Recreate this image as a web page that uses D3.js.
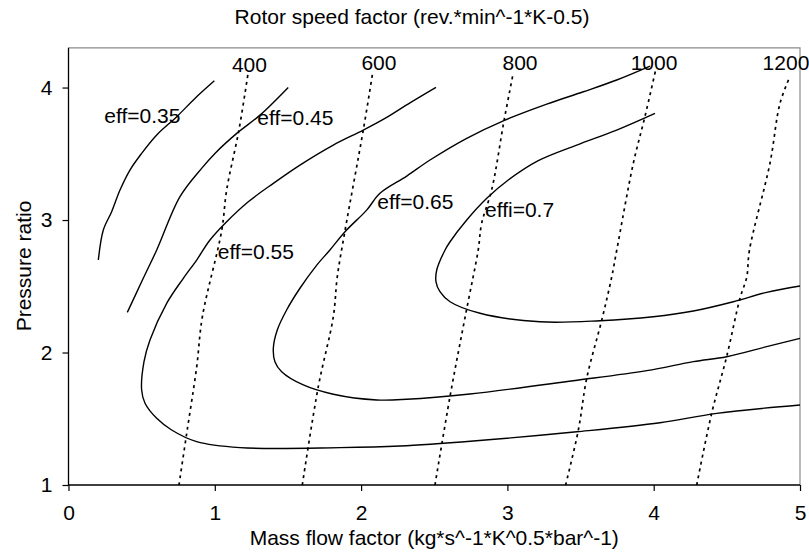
<!DOCTYPE html>
<html>
<head>
<meta charset="utf-8">
<script src="https://cdn.jsdelivr.net/npm/d3@7"></script>
<style>
  html, body { margin: 0; padding: 0; background: #fff; }
  svg { display: block; }
  text { font-family: "Liberation Sans", Arial, sans-serif; fill: #000; }
</style>
</head>
<body>
<svg id="chart" width="809" height="553"></svg>
<script>
// ---------- data ----------
const xTicks = [0, 1, 2, 3, 4, 5];
const yTicks = [1, 2, 3, 4];

const titleText = "Rotor speed factor (rev.*min^-1*K-0.5)";
const xAxisTitle = "Mass flow factor (kg*s^-1*K^0.5*bar^-1)";
const yAxisTitle = "Pressure ratio";

// constant speed lines (dotted)
const speedNames = ["400", "600", "800", "1000", "1200"];
const speed400 = [[0.755,1],[0.808,1.39],[0.876,1.89],[0.915,2.27],[1.047,2.92],[1.081,3.226],[1.165,3.68],[1.229,4.12]];
const speed600 = [[1.598,1],[1.707,1.74],[1.81,2.27],[1.837,2.57],[1.89,2.92],[2.015,3.68],[2.079,4.11]];
const speed800 = [[2.505,1],[2.608,1.67],[2.722,2.33],[2.80,2.77],[2.824,2.975],[2.893,3.23],[2.977,3.75],[3.04,4.11]];
const speed1000 = [[3.398,1],[3.485,1.415],[3.542,1.805],[3.645,2.245],[3.713,2.57],[3.747,2.77],[3.861,3.43],[3.94,3.78],[4.016,4.145]];
const speed1200 = [[4.294,1],[4.396,1.54],[4.499,1.97],[4.59,2.41],[4.636,2.57],[4.654,2.77],[4.795,3.43],[4.863,3.88],[4.93,4.08]];
const speedLabelX = [1.237, 2.122, 3.086, 4.002, 4.904];
const speedLabelY = [4.12, 4.135, 4.135, 4.135, 4.135];

// efficiency contours (solid)
const effNames = ["eff=0.35", "eff=0.45", "eff=0.55", "eff=0.65", "effi=0.7"];
const eff035 = [[0.204,2.698],[0.238,2.925],[0.295,3.063],[0.352,3.226],[0.42,3.377],[0.5,3.503],[0.603,3.642],[0.74,3.78],[0.864,3.918],[0.997,4.051]];
const eff045 = [[0.402,2.303],[0.511,2.56],[0.603,2.774],[0.762,3.176],[0.91,3.39],[1.001,3.503],[1.15,3.654],[1.309,3.792],[1.502,4.001]];
const eff055 = [[5.0,1.604],[4.431,1.541],[4.043,1.470],[3.474,1.402],[2.767,1.332],[2.266,1.294],[1.856,1.282],[1.172,1.282],[0.876,1.327],[0.705,1.415],[0.603,1.503],[0.523,1.617],[0.500,1.717],[0.516,1.931],[0.557,2.094],[0.671,2.371],[0.785,2.560],[0.876,2.698],[0.967,2.849],[1.081,2.987],[1.229,3.138],[1.400,3.277],[1.582,3.415],[1.810,3.566],[2.015,3.679],[2.175,3.775],[2.334,3.885],[2.512,4.002]];
const eff065 = [[5.0,2.107],[4.772,2.044],[4.499,1.968],[4.271,1.931],[3.952,1.863],[3.450,1.787],[2.744,1.687],[2.312,1.647],[2.107,1.642],[1.810,1.685],[1.605,1.755],[1.457,1.855],[1.411,1.931],[1.400,2.032],[1.427,2.170],[1.491,2.321],[1.582,2.485],[1.697,2.660],[1.787,2.774],[1.890,2.912],[2.038,3.075],[2.129,3.202],[2.312,3.332],[2.471,3.453],[2.722,3.617],[2.972,3.749],[3.269,3.875],[3.519,3.968],[3.747,4.057],[3.975,4.162]];
const eff070 = [[5.0,2.502],[4.772,2.454],[4.544,2.383],[4.271,2.313],[3.997,2.270],[3.633,2.240],[3.223,2.232],[2.813,2.296],[2.608,2.383],[2.539,2.459],[2.512,2.534],[2.517,2.623],[2.574,2.774],[2.608,2.836],[2.722,3.0],[2.859,3.164],[3.006,3.302],[3.211,3.448],[3.474,3.566],[3.747,3.679],[4.009,3.805]];
const effLabelX = [0.245, 1.291, 1.020, 2.111, 2.847];
const effLabelY = [3.731, 3.714, 2.709, 3.081, 3.023];

// ---------- layout ----------
const svg = d3.select("#chart");
const mLeft = 68.5, mRight = 800, mTop = 47.8, mBottom = 485;
const FONT = 21;

const x = d3.scaleLinear().domain([0, 5]).range([mLeft, mRight]);
const y = d3.scaleLinear().domain([1, 4.3]).range([mBottom, mTop]);

const line = d3.line().x(d => x(d[0])).y(d => y(d[1])).curve(d3.curveCatmullRom.alpha(0.5));

const plot = svg.append("g");

// border top/right (gray)
plot.append("path")
  .attr("d", `M${mLeft},${mTop}H${mRight}V${mBottom}`)
  .attr("fill", "none").attr("stroke", "#8c8c8c").attr("stroke-width", 1.2);

// speed lines
const speeds = [speed400, speed600, speed800, speed1000, speed1200];
plot.selectAll(".speed").data(speeds).join("path")
  .attr("class", "speed")
  .attr("d", line)
  .attr("fill", "none").attr("stroke", "#000")
  .attr("stroke-width", 1.7).attr("stroke-dasharray", "3,4");

// efficiency lines
const effs = [eff035, eff045, eff055, eff065, eff070];
plot.selectAll(".eff").data(effs).join("path")
  .attr("class", "eff")
  .attr("d", line)
  .attr("fill", "none").attr("stroke", "#000")
  .attr("stroke-width", 1.4);

// axes
const xAxis = d3.axisBottom(x).tickValues(xTicks).tickFormat(d3.format("d")).tickSizeOuter(0).tickSize(6).tickPadding(14);
const yAxis = d3.axisLeft(y).tickValues(yTicks).tickFormat(d3.format("d")).tickSizeOuter(0).tickSize(6).tickPadding(10);

const gx = svg.append("g").attr("transform", `translate(0,${mBottom})`).call(xAxis);
const gy = svg.append("g").attr("transform", `translate(${mLeft},0)`).call(yAxis);
[gx, gy].forEach(g => {
  g.select(".domain").remove();
  g.selectAll("line").attr("stroke", "#000").attr("stroke-width", 1.2);
  g.selectAll("text").style("font-size", FONT + "px").style("font-family", '"Liberation Sans", Arial, sans-serif').attr("fill", "#000");
});
svg.append("path").attr("d", `M${mLeft},${mTop}V${mBottom}H${mRight}`)
  .attr("fill", "none").attr("stroke", "#000").attr("stroke-width", 1.3);

// labels
plot.selectAll(".slab").data(speedNames).join("text")
  .attr("class", "slab")
  .attr("x", (d, i) => x(speedLabelX[i]))
  .attr("y", (d, i) => y(speedLabelY[i]))
  .attr("text-anchor", "middle")
  .style("font-size", FONT + "px")
  .text(d => d);

plot.selectAll(".elab").data(effNames).join("text")
  .attr("class", "elab")
  .attr("x", (d, i) => x(effLabelX[i]))
  .attr("y", (d, i) => y(effLabelY[i]))
  .style("font-size", FONT + "px")
  .text(d => d);

// titles
svg.append("text").attr("x", 412).attr("y", 24).attr("text-anchor", "middle")
  .style("font-size", FONT + "px").text(titleText);
svg.append("text").attr("x", (mLeft + mRight) / 2).attr("y", 544.5).attr("text-anchor", "middle")
  .style("font-size", FONT + "px").text(xAxisTitle);
svg.append("text").attr("transform", `translate(31,${266}) rotate(-90)`).attr("text-anchor", "middle")
  .style("font-size", FONT + "px").text(yAxisTitle);
</script>
</body>
</html>
